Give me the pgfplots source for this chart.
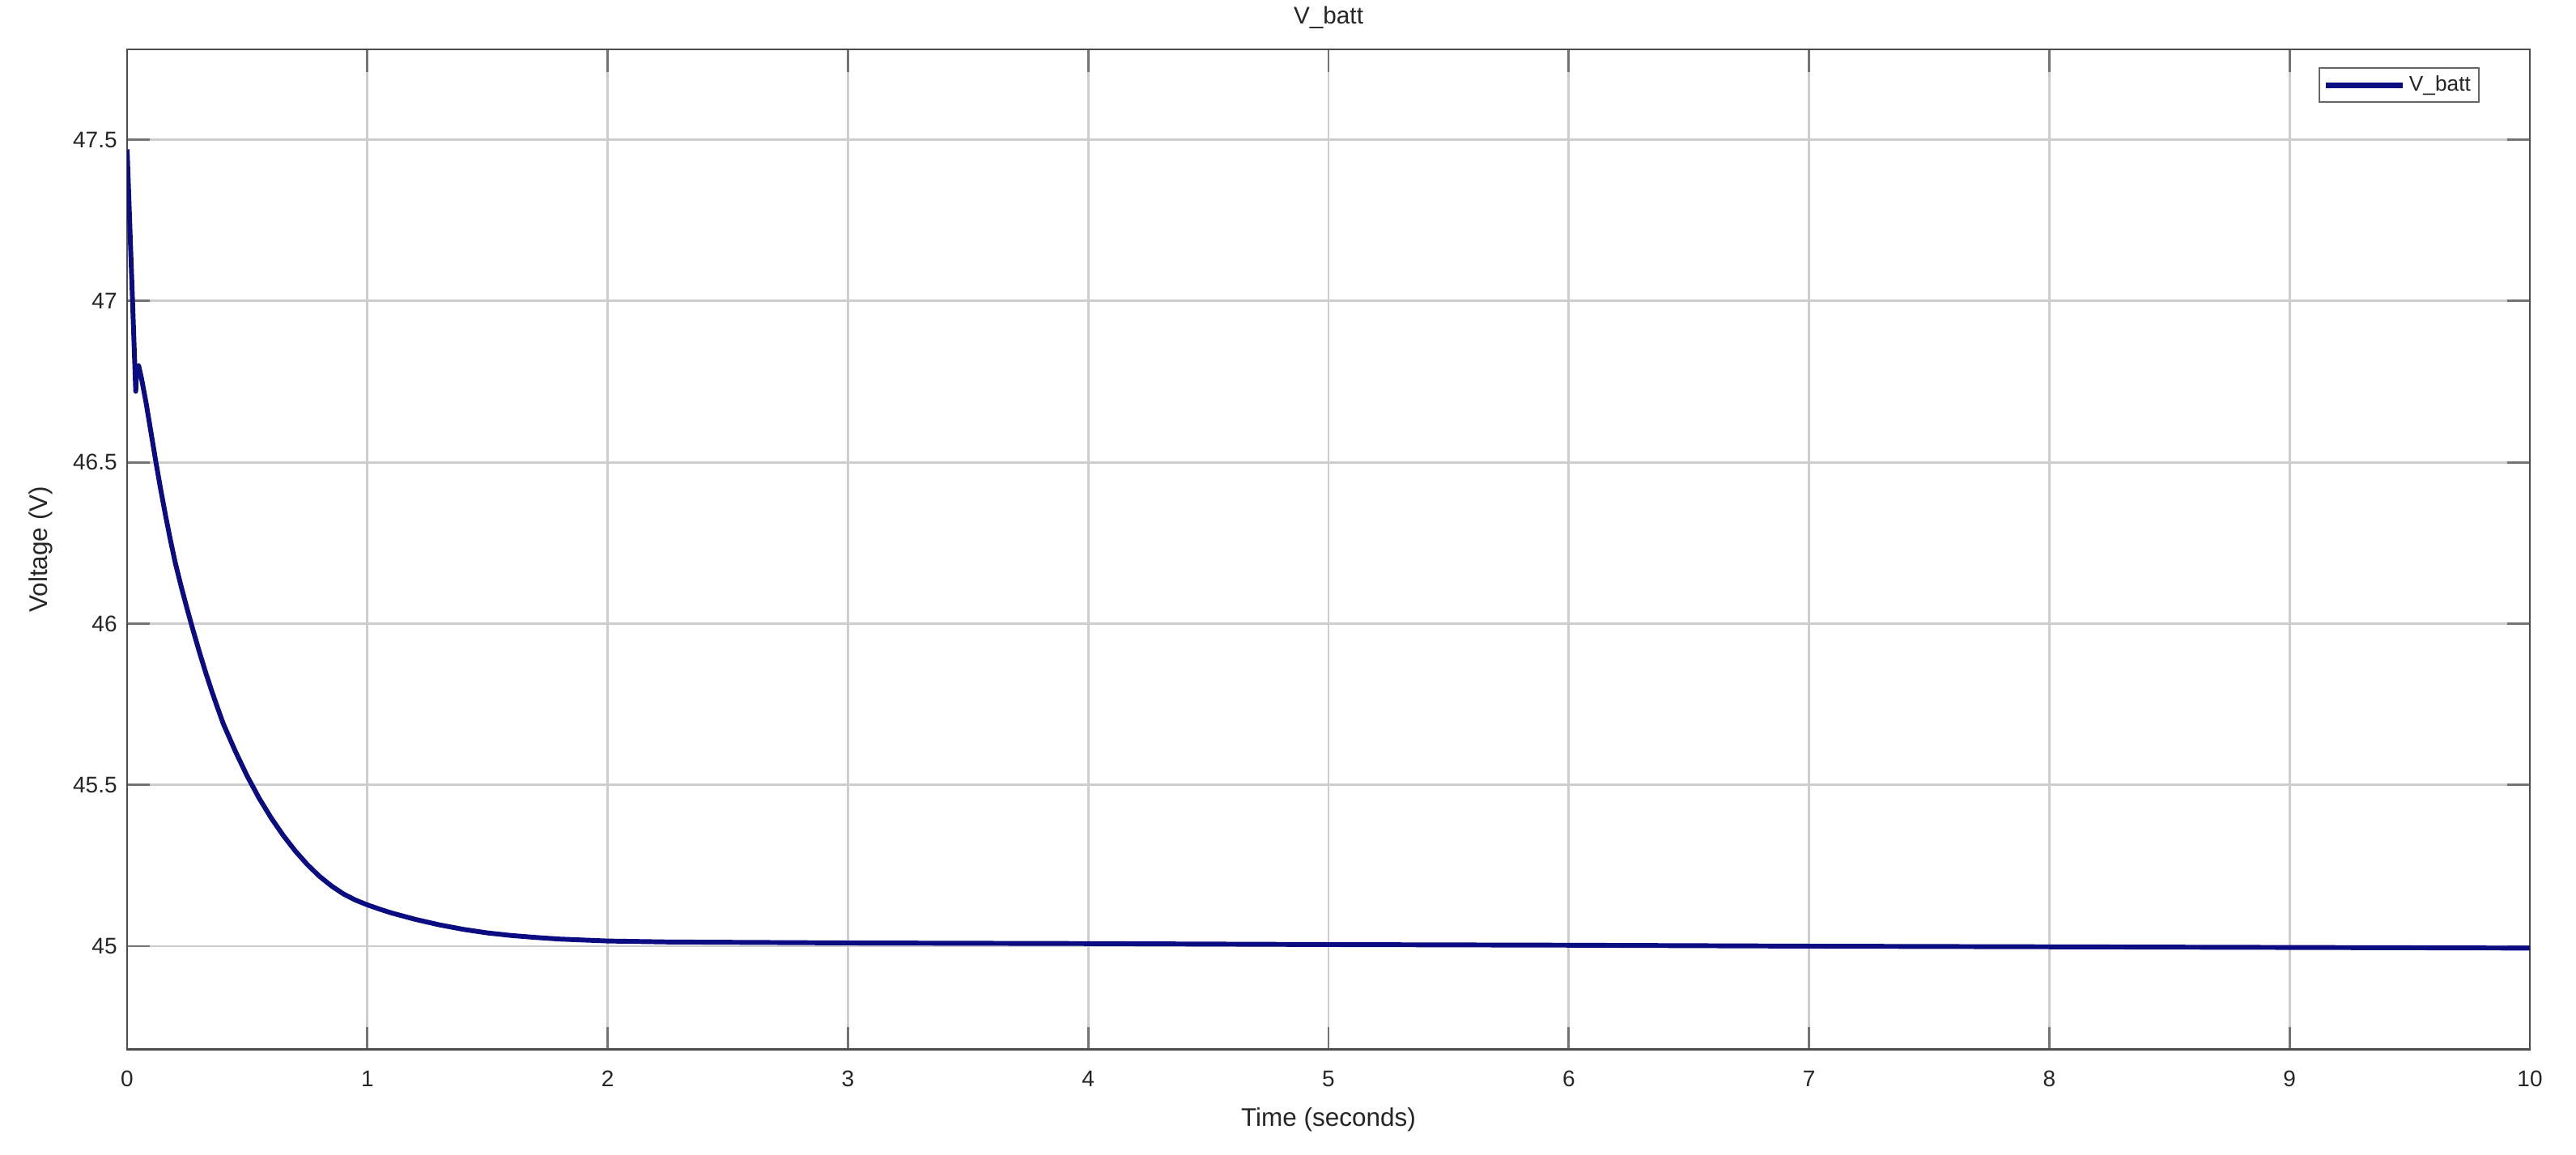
\documentclass[border=0pt]{standalone}
\usepackage{pgfplots}
\pgfplotsset{compat=1.18}
\usepackage{fontspec}
\setmainfont{Liberation Sans}
\definecolor{vbatt}{RGB}{12,12,130}
\definecolor{gridc}{RGB}{205,205,205}
\definecolor{txt}{RGB}{38,38,38}
\begin{document}
\begin{tikzpicture}
% page size (3.5 px per pt), axis corner at the origin
\useasboundingbox (-44.86pt,-37.14pt) rectangle (864.29pt,370.43pt);
\begin{axis}[
  name=ax,
  anchor=south west, at={(0,0)},
  scale only axis,
  width=848pt, height=353pt,
  xmin=0, xmax=10, ymin=44.68, ymax=47.78,
  xtick={0,...,10},
  ytick={45,45.5,46,46.5,47,47.5},
  grid=major,
  major grid style={gridc, line width=0.8pt},
  axis line style={black!70, line width=0.8pt},
  tick style={black!55, line width=0.8pt},
  major tick length=8pt,
  tick align=inside,
  ticklabel style={font=\fontsize{8}{9}\selectfont, text=txt},
  /pgf/number format/assume math mode=true,
  yticklabel style={/pgf/number format/fixed, /pgf/number format/precision=1},
  xticklabel style={yshift=-4pt},
  title={V\_batt},
  title style={font=\fontsize{8.5}{10}\selectfont, text=txt, at={(axis description cs:0.5,1)}, anchor=base, yshift=3pt},
  xlabel={Time (seconds)},
  xlabel style={font=\fontsize{9}{10}\selectfont, text=txt, at={(axis description cs:0.5,-0.07)}, anchor=center},
  ylabel={Voltage (V)},
  ylabel style={font=\fontsize{9}{10}\selectfont, text=txt, at={(axis description cs:-0.036,0.5)}, anchor=center},
  legend style={at={(axis description cs:0.979,0.982)}, anchor=north east, draw=black!60, line width=0.6pt,
    font=\fontsize{7.5}{8}\selectfont, inner xsep=1.5pt, inner ysep=1.2pt, nodes={inner sep=1.3pt}, text=txt},
  legend image code/.code={\draw[#1, line width=2pt] (0pt,0pt) -- (27pt,0pt);},
]
\addplot[vbatt, line width=1.7pt, line join=round, no markers] coordinates {
  (0.000,47.47) (0.036,46.72) (0.040,46.79) (0.048,46.80) (0.060,46.76)
  (0.080,46.68) (0.100,46.59) (0.120,46.50) (0.140,46.415) (0.160,46.335)
  (0.180,46.26) (0.200,46.19) (0.225,46.115) (0.250,46.045) (0.275,45.978)
  (0.300,45.914) (0.325,45.853) (0.350,45.796) (0.375,45.742) (0.400,45.69)
  (0.450,45.605) (0.500,45.527) (0.550,45.458) (0.600,45.397) (0.650,45.343)
  (0.700,45.295) (0.750,45.253) (0.800,45.217) (0.850,45.187) (0.900,45.162)
  (0.950,45.143) (1.000,45.128) (1.050,45.115) (1.100,45.103) (1.200,45.083)
  (1.300,45.066) (1.400,45.052) (1.500,45.041) (1.600,45.033) (1.700,45.027)
  (1.800,45.022) (1.900,45.019) (2.000,45.016) (2.250,45.013) (2.500,45.012)
  (3.000,45.010) (4.000,45.008) (5.000,45.005) (6.000,45.003) (7.000,45.000)
  (8.000,44.998) (9.000,44.996) (10.00,44.994)
};
\addlegendentry{V\_batt}
\end{axis}
\end{tikzpicture}
\end{document}
